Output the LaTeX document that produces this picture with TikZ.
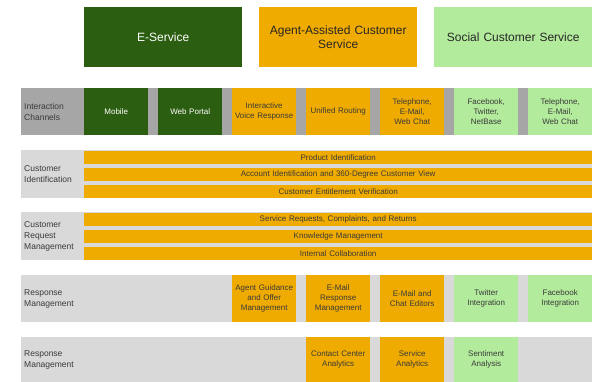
\documentclass[tikz,border=0pt]{standalone}
\usepackage{fontspec}
\setmainfont{Liberation Sans}
\definecolor{eserv}{HTML}{2B5E10}
\definecolor{agent}{HTML}{F0AB00}
\definecolor{social}{HTML}{B3EB9C}
\definecolor{labgray}{HTML}{A6A6A6}
\definecolor{rowgray}{HTML}{D9D9D9}
\definecolor{txt}{HTML}{3A3A3A}

\begin{document}
\begin{tikzpicture}[x=1pt,y=-1pt]

        \tikzstyle{head} = [rectangle, anchor=north west, inner sep=0pt, text width=158pt, minimum height=60pt, align=center, font=\fontsize{12}{14}\selectfont]
        \tikzstyle{band} = [rectangle, anchor=north west, inner sep=0pt, minimum width=571pt]
        \tikzstyle{rowlabel} = [anchor=west, inner sep=0pt, align=left, font=\fontsize{8.5}{11}\selectfont, text=txt]
        \tikzstyle{cell} = [rectangle, anchor=north west, inner sep=0pt, text width=64pt, minimum height=47pt, align=center, font=\fontsize{8}{10}\selectfont, text=txt]
        \tikzstyle{bar} = [rectangle, anchor=north west, inner sep=0pt, text width=508pt, minimum height=13pt, align=center, fill=agent, font=\fontsize{8}{10}\selectfont, text=txt]
        \useasboundingbox (0,0) rectangle (594,382);

        % Headers
        \node (eservice) [head, fill=eserv, text=white] at (84,7) {E-Service};
        \node (assisted) [head, fill=agent, text=black!85] at (259,7) {Agent-Assisted Customer\\Service};
        \node (social) [head, fill=social, text=black!85] at (434,7) {Social Customer Service};

        % Interaction channels
        \node (chanband) [band, fill=labgray, minimum height=47pt] at (21,88) {};
        \node (chanlabel) [rowlabel] at (24,111.5) {Interaction\\Channels};
        \node (mobile) [cell, fill=eserv, text=white] at (84,88) {Mobile};
        \node (portal) [cell, fill=eserv, text=white] at (158,88) {Web Portal};
        \node (ivr) [cell, fill=agent] at (232,88) {Interactive\\Voice Response};
        \node (routing) [cell, fill=agent] at (306,88) {Unified Routing};
        \node (agentchan) [cell, fill=agent] at (380,88) {Telephone,\\E-Mail,\\Web Chat};
        \node (facebook) [cell, fill=social] at (454,88) {Facebook,\\Twitter,\\NetBase};
        \node (socialchan) [cell, fill=social] at (528,88) {Telephone,\\E-Mail,\\Web Chat};

        % Customer identification
        \node (identband) [band, fill=rowgray, minimum height=48pt] at (21,150) {};
        \node (identlabel) [rowlabel] at (24,174) {Customer\\Identification};
        \node (product) [bar] at (84,151) {Product Identification};
        \node (account) [bar] at (84,168) {Account Identification and 360-Degree Customer View};
        \node (entitle) [bar] at (84,185) {Customer Entitlement Verification};

        % Customer request management
        \node (requestband) [band, fill=rowgray, minimum height=48pt] at (21,212) {};
        \node (requestlabel) [rowlabel] at (24,236) {Customer\\Request\\Management};
        \node (service) [bar] at (84,213) {Service Requests, Complaints, and Returns};
        \node (knowledge) [bar] at (84,230) {Knowledge Management};
        \node (collab) [bar] at (84,247) {Internal Collaboration};

        % Response management
        \node (respband) [band, fill=rowgray, minimum height=47pt] at (21,275) {};
        \node (resplabel) [rowlabel] at (24,298.5) {Response\\Management};
        \node (guidance) [cell, fill=agent] at (232,275) {Agent Guidance\\and Offer\\Management};
        \node (emailresp) [cell, fill=agent] at (306,275) {E-Mail\\Response\\Management};
        \node (editors) [cell, fill=agent] at (380,275) {E-Mail and\\Chat Editors};
        \node (twitter) [cell, fill=social] at (454,275) {Twitter\\Integration};
        \node (fbint) [cell, fill=social] at (528,275) {Facebook\\Integration};

        % Analytics
        \node (analyband) [band, fill=rowgray, minimum height=45pt] at (21,337) {};
        \node (analylabel) [rowlabel] at (24,359.5) {Response\\Management};
        \node (center) [cell, fill=agent, minimum height=45pt] at (306,337) {Contact Center\\Analytics};
        \node (svcanaly) [cell, fill=agent, minimum height=45pt] at (380,337) {Service\\Analytics};
        \node (sentiment) [cell, fill=social, minimum height=45pt] at (454,337) {Sentiment\\Analysis};

    \end{tikzpicture}
\end{document}
